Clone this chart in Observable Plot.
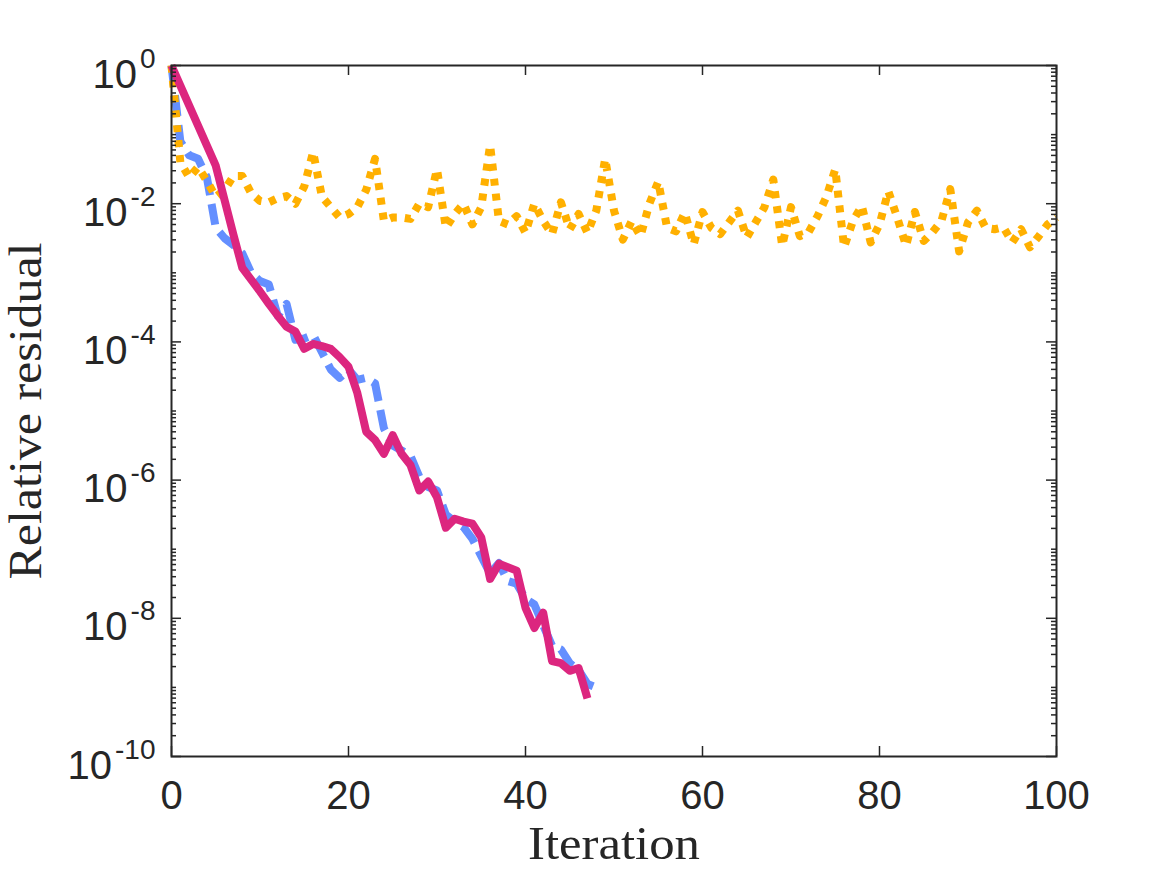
<!DOCTYPE html>
<html>
<head>
<meta charset="utf-8">
<script src="https://cdn.jsdelivr.net/npm/d3@7"></script>
<script src="https://cdn.jsdelivr.net/npm/@observablehq/plot@0.6"></script>
<style>
  html, body { margin: 0; padding: 0; background: #ffffff; }
  #chart svg { display: block; }
</style>
</head>
<body>
<div id="chart"></div>
<script>
// ---- Data (log10 of relative residual, one value per iteration starting at 0) ----
const orangeLog10 = [
  0, -1.4, -1.62, -1.47, -1.67, -1.9, -1.8, -1.6, -1.6, -1.85,
  -1.96, -1.98, -1.92, -1.89, -2.0, -1.75, -1.25, -1.9, -2.05, -2.2,
  -2.15, -2.05, -1.8, -1.35, -2.25, -2.2, -2.2, -2.22, -2.0, -2.05,
  -1.5, -2.35, -2.15, -2.0, -2.3, -2.05, -1.15, -2.25, -2.3, -2.18,
  -2.42, -2.0, -2.25, -2.44, -1.98, -2.37, -2.15, -2.42, -2.1, -1.35,
  -2.1, -2.52, -2.25, -2.47, -2.0, -1.68, -2.35, -2.4, -2.13, -2.59,
  -2.12, -2.35, -2.44, -2.27, -2.1, -2.49, -2.27, -2.05, -1.65, -2.61,
  -2.05, -2.47, -2.41, -2.18, -1.9, -1.5, -2.63, -2.25, -2.03, -2.56,
  -2.3, -1.82, -2.2, -2.61, -2.12, -2.54, -2.41, -2.25, -1.79, -2.69,
  -2.27, -2.1, -2.35, -2.37, -2.34, -2.56, -2.37, -2.63, -2.47, -2.3,
  -2.2
];
const blueLog10 = [
  0, -1.1, -1.3, -1.35, -1.62, -2.35, -2.5, -2.6, -2.72, -3.0,
  -3.12, -3.17, -3.62, -3.45, -3.97, -3.95, -3.9, -4.15, -4.4, -4.52,
  -4.4, -4.55, -4.52, -4.6, -5.25, -5.5, -5.57, -5.65, -5.95, -6.1,
  -6.15, -6.5, -6.6, -6.68, -6.85, -7.1, -7.35, -7.2, -7.46, -7.5,
  -7.72, -7.8, -8.1, -8.4, -8.45, -8.65, -8.75, -8.95, -9.0
];
const pinkLog10 = [
  0, -0.29, -0.58, -0.87, -1.16, -1.45, -1.95, -2.45, -2.93, -3.1,
  -3.27, -3.45, -3.62, -3.78, -3.85, -4.1, -4.03, -4.06, -4.1, -4.22,
  -4.36, -4.74, -5.3, -5.42, -5.62, -5.35, -5.62, -5.78, -6.15, -6.02,
  -6.25, -6.69, -6.56, -6.6, -6.63, -6.83, -7.43, -7.21, -7.26, -7.31,
  -7.85, -8.14, -7.92, -8.62, -8.65, -8.76, -8.72, -9.16
];

const xTicks = [0, 20, 40, 60, 80, 100];
const yLabelExps = [0, -2, -4, -6, -8, -10];
const xLabel = "Iteration";
const yLabel = "Relative residual";

// ---- Build tables ----
const toRows = (arr) => arr.map((v, i) => ({iter: i, res: Math.pow(10, v)}));
const orangeRows = toRows(orangeLog10);
const blueRows = toRows(blueLog10);
const pinkRows = toRows(pinkLog10);

// minor log ticks k*10^d
const yMinor = [];
for (let d = -10; d < 0; d++) for (let k = 2; k <= 9; k++) yMinor.push(k * Math.pow(10, d));
for (let d = -9; d < 0; d += 2) yMinor.push(Math.pow(10, d));
const yMajor = yLabelExps.map(e => Math.pow(10, e));

const W = 1167, H = 875;
const mL = 171, mR = 111, mT = 65, mB = 119;
const PW = W - mL - mR, PH = H - mT - mB;
const ink = "#262626";

const svg = Plot.plot({
  width: W,
  height: H,
  marginLeft: mL, marginRight: mR, marginTop: mT, marginBottom: mB,
  style: {fontFamily: "'Liberation Sans', Arial, sans-serif", background: "#ffffff", color: ink},
  x: {domain: [0, 100], axis: null},
  y: {type: "log", domain: [1e-10, 1], axis: null},
  marks: [
    // series
    Plot.line(blueRows, {x: "iter", y: "res", stroke: "#648FFF", strokeWidth: 8,
      strokeDasharray: "21,9", strokeLinecap: "butt", strokeLinejoin: "round"}),
    Plot.line(orangeRows, {x: "iter", y: "res", stroke: "#FFB000", strokeWidth: 8,
      strokeDasharray: "7,8", strokeLinecap: "butt", strokeLinejoin: "round"}),
    Plot.line(pinkRows, {x: "iter", y: "res", stroke: "#DC267F", strokeWidth: 8,
      strokeLinecap: "butt", strokeLinejoin: "round"}),
    // ticks (inside)
    Plot.tickY(yMajor, {y: d => d, stroke: ink, strokeWidth: 1.5, insetRight: PW - 10}),
    Plot.tickY(yMajor, {y: d => d, stroke: ink, strokeWidth: 1.5, insetLeft: PW - 10}),
    Plot.tickY(yMinor, {y: d => d, stroke: ink, strokeWidth: 1.5, insetRight: PW - 5}),
    Plot.tickY(yMinor, {y: d => d, stroke: ink, strokeWidth: 1.5, insetLeft: PW - 5}),
    Plot.tickX(xTicks, {x: d => d, stroke: ink, strokeWidth: 1.5, insetTop: PH - 10}),
    Plot.tickX(xTicks, {x: d => d, stroke: ink, strokeWidth: 1.5, insetBottom: PH - 10}),
    Plot.frame({stroke: ink, strokeWidth: 2}),
    // tick labels
    Plot.text(xTicks, {x: d => d, text: d => String(d), frameAnchor: "bottom", dy: 52,
      lineAnchor: "bottom", textAnchor: "middle", fontSize: 40, fill: ink}),
    Plot.text(yLabelExps, {y: d => Math.pow(10, d), text: d => "10^" + d, frameAnchor: "left",
      dx: -16, dy: 22, lineAnchor: "bottom", textAnchor: "end", fontSize: 40, fill: ink}),
    // axis labels
    Plot.text([xLabel], {frameAnchor: "bottom", dy: 102, lineAnchor: "bottom", textAnchor: "middle",
      fontSize: 46, fill: ink, fontFamily: "'Liberation Serif', 'DejaVu Serif', serif"}),
    Plot.text([yLabel], {frameAnchor: "left", dx: -131, rotate: -90, lineAnchor: "bottom",
      textAnchor: "middle", fontSize: 46, fill: ink, fontFamily: "'Liberation Serif', 'DejaVu Serif', serif"})
  ]
});

// superscript exponents and label widths
d3.select(svg).selectAll("text").each(function () {
  const t = this.textContent;
  if (t.startsWith("10^")) {
    const e = t.slice(3);
    this.textContent = "10";
    d3.select(this).append("tspan").attr("dx", 3).attr("dy", -20).attr("font-size", 28).text(e);
  } else if (t === xLabel) {
    this.setAttribute("textLength", 172);
    this.setAttribute("lengthAdjust", "spacingAndGlyphs");
  } else if (t === yLabel) {
    this.setAttribute("textLength", 337);
    this.setAttribute("lengthAdjust", "spacingAndGlyphs");
  }
});

document.getElementById("chart").appendChild(svg);
</script>
</body>
</html>
